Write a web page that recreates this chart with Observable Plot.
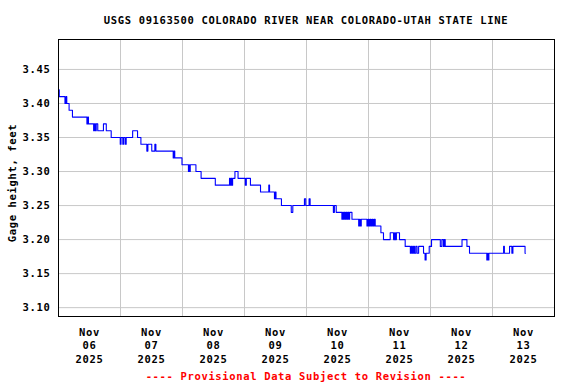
<!DOCTYPE html>
<html><head><meta charset="utf-8">
<script src="https://cdn.jsdelivr.net/npm/d3@7"></script>
<script src="https://cdn.jsdelivr.net/npm/@observablehq/plot@0.6"></script>
<style>
body{margin:0;background:#fff;width:576px;height:384px;overflow:hidden;position:relative;font-family:"DejaVu Sans Mono",monospace;font-weight:bold}
.t{position:absolute;left:58px;width:496px;text-align:center;font-size:10.5px;line-height:12px;letter-spacing:0.65px;white-space:nowrap}
#title{top:14px;color:#000}
#caption{top:370px;color:#ff0000}
#chart{position:absolute;left:0;top:30px}
</style></head><body>
<div id="title" class="t">USGS 09163500 COLORADO RIVER NEAR COLORADO-UTAH STATE LINE</div>
<div id="chart"></div>
<div id="caption" class="t">---- Provisional Data Subject to Revision ----</div>
<script>
const titleText = "USGS 09163500 COLORADO RIVER NEAR COLORADO-UTAH STATE LINE";
const yLabel = "Gage height, feet";
const captionText = "---- Provisional Data Subject to Revision ----";
const startDate = "2025-11-06";
const endDate = "2025-11-14";
const yTicks = [3.10, 3.15, 3.20, 3.25, 3.30, 3.35, 3.40, 3.45];
const yDomain = [3.087, 3.494];
// hours since 2025-11-06 00:00 and gage height (ft)
const hours = [0,0.3,2.5,2.9,3.2,4.1,5.4,11.0,11.3,11.6,13.6,13.9,14.3,14.6,15.2,17.4,18.5,20.4,23.9,24.2,24.9,25.2,25.8,26.2,28.7,30.6,31.9,34.2,34.6,36.1,37.3,37.7,44.4,44.7,45.0,47.8,50.3,50.5,50.7,51.0,53.2,55.2,60.7,66.2,66.5,66.8,67.1,67.4,68.3,69.5,72.3,72.7,74.3,78.2,81.4,81.7,83.6,83.9,84.2,86.3,90.1,90.7,95.2,95.7,97.0,97.4,106.4,106.8,107.5,109.7,110.0,110.3,110.6,111.0,111.3,111.7,112.0,112.4,112.7,113.6,116.2,116.5,116.8,117.2,119.4,119.8,120.2,120.6,121.0,121.4,121.8,122.2,122.6,124.8,125.8,128.4,129.7,130.1,130.4,130.8,132.0,134.2,136.2,136.6,137.0,137.4,137.8,138.3,138.8,139.4,141.3,141.9,142.3,143.5,144.4,147.8,148.4,149.0,149.3,149.7,156.2,158.1,159.1,165.8,166.1,166.3,166.6,172.3,172.6,174.6,175.5,175.9,180.6,180.8];
const gage = [3.42,3.41,3.40,3.41,3.40,3.39,3.38,3.37,3.38,3.37,3.36,3.37,3.36,3.37,3.36,3.37,3.36,3.35,3.34,3.35,3.34,3.35,3.34,3.35,3.36,3.35,3.34,3.33,3.34,3.33,3.34,3.33,3.32,3.33,3.32,3.31,3.30,3.31,3.30,3.31,3.30,3.29,3.28,3.29,3.28,3.29,3.28,3.29,3.30,3.29,3.28,3.29,3.28,3.27,3.28,3.27,3.26,3.27,3.26,3.25,3.24,3.25,3.26,3.25,3.26,3.25,3.24,3.25,3.24,3.23,3.24,3.23,3.24,3.23,3.24,3.23,3.24,3.23,3.24,3.23,3.22,3.23,3.22,3.23,3.22,3.23,3.22,3.23,3.22,3.23,3.22,3.23,3.22,3.21,3.20,3.21,3.20,3.21,3.20,3.21,3.20,3.19,3.18,3.19,3.18,3.19,3.18,3.19,3.18,3.19,3.18,3.17,3.18,3.19,3.20,3.19,3.20,3.19,3.20,3.19,3.20,3.19,3.18,3.17,3.18,3.17,3.18,3.19,3.18,3.19,3.18,3.19,3.18,3.18];

const t0 = new Date(startDate + "T00:00:00Z");
const t1 = new Date(endDate + "T00:00:00Z");
const data = hours.map((h, i) => ({date: new Date(+t0 + h * 3600e3), value: gage[i]}));
const midnights = d3.utcDay.range(t0, d3.utcDay.offset(t1, 1));
const noons = d3.utcDay.range(t0, t1).map(d => d3.utcHour.offset(d, 12));
const fmt = d3.utcFormat("%b\n%d\n%Y");

document.getElementById("title").textContent = titleText;
document.getElementById("caption").textContent = captionText;

const chart = Plot.plot({
  width: 576,
  height: 335,
  marginTop: 9,
  marginBottom: 49,
  marginLeft: 58,
  marginRight: 22,
  style: "font-family:'DejaVu Sans Mono',monospace;font-weight:bold;font-size:10.5px;letter-spacing:0.65px;background:#fff;overflow:visible;color:#000",
  x: {type: "utc", domain: [t0, t1]},
  y: {domain: yDomain},
  marks: [
    Plot.gridX(midnights, {stroke: "#c8c8c8", strokeOpacity: 1}),
    Plot.gridY(yTicks, {stroke: "#c8c8c8", strokeOpacity: 1}),
    Plot.line(data, {x: "date", y: "value", curve: "step-after", stroke: "#0000ff", strokeWidth: 1.1}),
    Plot.frame({stroke: "#000", strokeWidth: 1}),
    Plot.axisX(noons, {tickSize: 0, tickPadding: 10, tickFormat: fmt, lineHeight: 1.27, label: null, fill: "#000"}),
    Plot.axisY(yTicks, {tickSize: 0, tickPadding: 8, tickFormat: d3.format(".2f"), label: null, fill: "#000"}),
    Plot.text([yLabel], {frameAnchor: "left", dx: -46, dy: 5, rotate: -90, textAnchor: "middle", fill: "#000"})
  ]
});
document.getElementById("chart").appendChild(chart);
</script>
</body></html>
